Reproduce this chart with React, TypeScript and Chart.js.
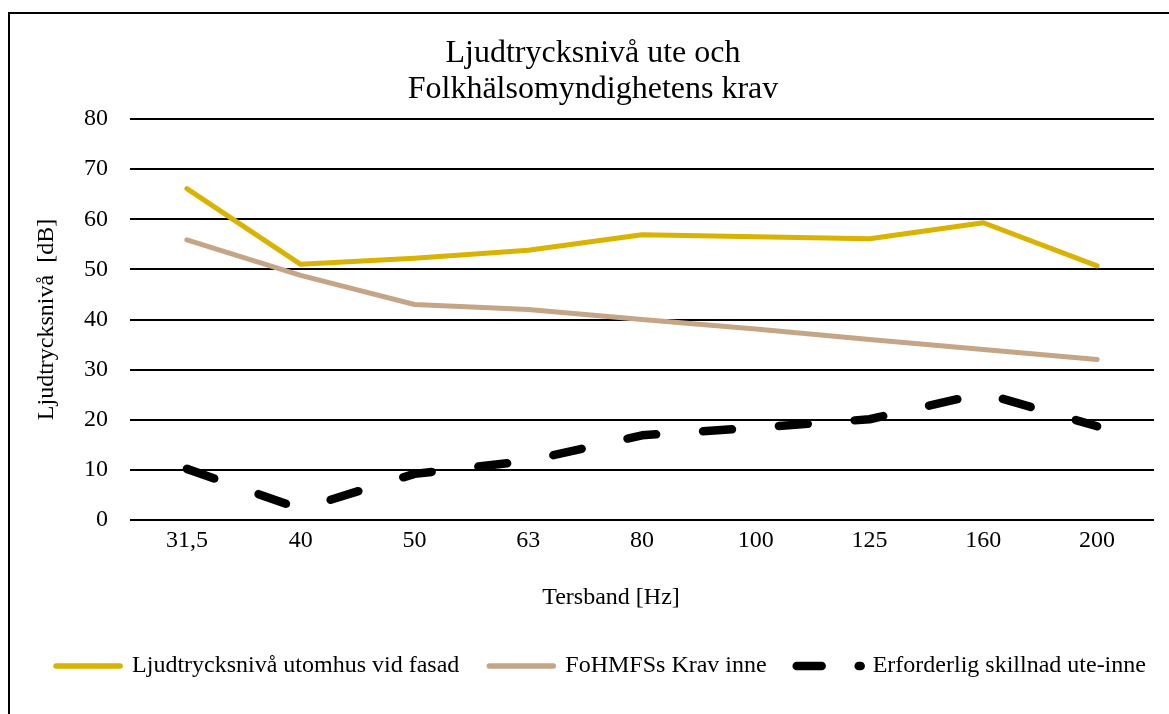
import React, { useEffect, useRef } from "react";
import { Chart, registerables } from "chart.js";

Chart.register(...registerables);

const TITLE_LINES = ["Ljudtrycksnivå ute och", "Folkhälsomyndighetens krav"];
const X_TITLE = "Tersband [Hz]";
const Y_TITLE = "Ljudtrycksnivå  [dB]";

const categories = ["31,5", "40", "50", "63", "80", "100", "125", "160", "200"];

const outdoorLevel = [66.1, 51.0, 52.2, 53.8, 56.9, 56.5, 56.1, 59.3, 50.7];
const indoorRequirement = [55.9, 48.8, 43.0, 42.0, 40.0, 38.1, 36.0, 34.0, 32.0];
const requiredDifference = [10.2, 2.2, 9.2, 11.8, 16.9, 18.4, 20.1, 25.3, 18.7];

const seriesNames = [
  "Ljudtrycksnivå utomhus vid fasad",
  "FoHMFSs Krav inne",
  "Erforderlig skillnad ute-inne",
];

const yTicks = { min: 0, max: 80, step: 10 };

const FONT = "'Liberation Serif', 'Times New Roman', serif";

const xTitlePlugin = {
  id: "xTitlePlugin",
  afterDraw(chart: any) {
    const { ctx, chartArea } = chart;
    ctx.save();
    ctx.font = `24px ${FONT}`;
    ctx.fillStyle = "#000";
    ctx.textAlign = "center";
    ctx.textBaseline = "alphabetic";
    const cx = (chartArea.left + chartArea.right) / 2 - 31;
    ctx.fillText(X_TITLE, cx, chartArea.bottom + 84);
    ctx.restore();
  },
};

const legendShiftPlugin = {
  id: "legendShiftPlugin",
  afterLayout(chart: any) {
    if (chart.legend) {
      chart.legend.left += 16;
    }
  },
};

export default function App() {
  const canvasRef = useRef<HTMLCanvasElement | null>(null);

  useEffect(() => {
    if (!canvasRef.current) return;
    const lineWidths = [5.5, 5.5, 8.5];
    const legendDash = [[], [], [25, 37]];
    const legendDashOffset = [0, 0, 0];

    const chart = new Chart(canvasRef.current, {
      type: "line",
      data: {
        labels: categories,
        datasets: [
          {
            label: seriesNames[0],
            data: outdoorLevel,
            borderColor: "#D9B300",
            backgroundColor: "#D9B300",
            borderWidth: 5,
            pointRadius: 0,
            borderCapStyle: "round",
            borderJoinStyle: "round",
            tension: 0,
          },
          {
            label: seriesNames[1],
            data: indoorRequirement,
            borderColor: "#C4A687",
            backgroundColor: "#C4A687",
            borderWidth: 5,
            pointRadius: 0,
            borderCapStyle: "round",
            borderJoinStyle: "round",
            tension: 0,
          },
          {
            label: seriesNames[2],
            data: requiredDifference,
            borderColor: "#000000",
            backgroundColor: "#000000",
            borderWidth: 8.5,
            pointRadius: 0,
            borderDash: [29, 47],
            borderCapStyle: "round",
            borderJoinStyle: "round",
            tension: 0,
          },
        ],
      },
      options: {
        responsive: false,
        animation: false,
        devicePixelRatio: 1,
        layout: { padding: { left: 0, right: 0, top: 0, bottom: 26 } },
        plugins: {
          tooltip: { enabled: false },
          title: {
            display: true,
            text: TITLE_LINES,
            color: "#000",
            font: { family: FONT, size: 32, weight: "normal", lineHeight: 1.125 },
            padding: { top: 22, bottom: 11 },
          },
          legend: {
            display: true,
            position: "bottom",
            labels: {
              color: "#000",
              font: { family: FONT, size: 24 },
              usePointStyle: true,
              pointStyleWidth: 64,
              padding: 30,
              generateLabels: (c: any) =>
                c.data.datasets.map((ds: any, i: number) => ({
                  text: ds.label,
                  fillStyle: "rgba(0,0,0,0)",
                  strokeStyle: ds.borderColor,
                  lineWidth: lineWidths[i],
                  lineCap: "round",
                  lineDash: legendDash[i],
                  lineDashOffset: legendDashOffset[i],
                  pointStyle: "line",
                  hidden: false,
                  datasetIndex: i,
                  fontColor: "#000",
                })),
            },
          },
        },
        scales: {
          x: {
            offset: true,
            grid: { display: false, drawTicks: false, offset: true },
            border: { display: false },
            ticks: {
              color: "#000",
              font: { family: FONT, size: 24 },
              padding: 6,
              maxRotation: 0,
            },
            afterFit: (scale: any) => {
              scale.height = 104;
            },
          },
          y: {
            min: yTicks.min,
            max: yTicks.max,
            ticks: {
              stepSize: yTicks.step,
              color: "#000",
              font: { family: FONT, size: 24 },
              padding: 22,
            },
            grid: { color: "#000", lineWidth: 2, drawTicks: false },
            border: { display: false },
            title: {
              display: true,
              text: Y_TITLE,
              color: "#000",
              font: { family: FONT, size: 24 },
              padding: { top: 22, bottom: 0 },
            },
            afterFit: (scale: any) => {
              scale.width = 120;
            },
          },
          yRight: {
            type: "linear",
            position: "right",
            display: true,
            grid: { display: false, drawTicks: false },
            border: { display: false },
            ticks: { display: false },
            afterFit: (scale: any) => {
              scale.width = 22;
            },
          },
        },
      },
      plugins: [xTitlePlugin, legendShiftPlugin],
    } as any);

    return () => chart.destroy();
  }, []);

  return (
    <div
      style={{
        position: "fixed",
        left: 8,
        top: 12,
        right: 0,
        bottom: 0,
        borderLeft: "2px solid #000",
        borderTop: "2px solid #000",
        boxSizing: "border-box",
        background: "#fff",
        overflow: "hidden",
      }}
    >
      <canvas
        ref={canvasRef}
        width={1166}
        height={700}
        style={{ display: "block", width: 1166, height: 700 }}
      />
    </div>
  );
}
